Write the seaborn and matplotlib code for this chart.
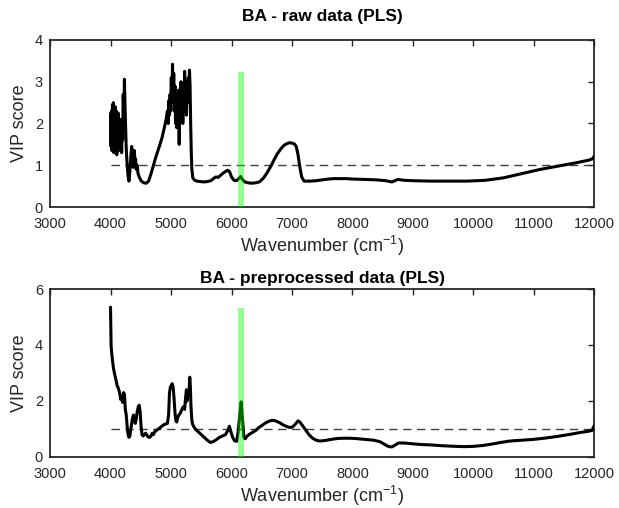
import numpy as np
import pandas as pd
import matplotlib
matplotlib.use("Agg")
import matplotlib.pyplot as plt
import seaborn as sns

# ---------------- data ----------------
raw_wn = [4000, 4008, 4016, 4024, 4032, 4040, 4048, 4056, 4064, 4072, 4080, 4088, 4096, 4104,
          4112, 4120, 4128, 4136, 4144, 4152, 4160, 4168, 4176, 4184, 4192, 4200, 4210, 4220,
          4230, 4240, 4250, 4260, 4275, 4290, 4305, 4320, 4335, 4350, 4365, 4375, 4385, 4395,
          4405, 4415, 4425, 4440, 4455, 4480, 4510, 4550, 4590, 4630, 4670, 4710, 4750, 4800,
          4850, 4890, 4920, 4940, 4955, 4965, 4975, 4985, 4995, 5005, 5015, 5025, 5035, 5045,
          5055, 5065, 5075, 5085, 5095, 5105, 5115, 5125, 5135, 5145, 5155, 5165, 5175, 5185,
          5195, 5205, 5215, 5225, 5235, 5245, 5255, 5265, 5275, 5285, 5295, 5305, 5315, 5325,
          5335, 5345, 5360, 5390, 5430, 5480, 5540, 5600, 5660, 5700, 5740, 5780, 5820, 5860,
          5900, 5940, 5970, 6000, 6040, 6080, 6120, 6150, 6180, 6220, 6270, 6330, 6400, 6460,
          6520, 6580, 6640, 6700, 6760, 6820, 6870, 6920, 6960, 7000, 7040, 7070, 7100, 7130,
          7160, 7200, 7300, 7400, 7500, 7600, 7700, 7800, 7900, 8000, 8200, 8400, 8550, 8650,
          8750, 8850, 9000, 9300, 9600, 9900, 10200, 10500, 10800, 11100, 11400, 11700, 11900,
          11960, 12000]
raw_vip = [2.24, 1.45, 2.30, 1.35, 2.45, 1.60, 2.50, 1.30, 2.20, 1.50, 2.40, 1.40, 2.30, 1.25,
           2.00, 1.45, 2.25, 1.35, 1.90, 1.55, 2.10, 1.40, 1.80, 1.30, 2.00, 1.60, 2.70, 2.10,
           3.06, 2.40, 1.90, 1.40, 1.00, 0.75, 0.62, 0.85, 1.20, 1.45, 1.20, 0.95, 1.25, 1.35,
           1.00, 1.15, 0.90, 1.00, 0.80, 0.70, 0.62, 0.58, 0.57, 0.62, 0.80, 1.00, 1.20, 1.42,
           1.65, 1.90, 2.10, 2.30, 2.00, 2.55, 2.20, 2.70, 2.30, 3.10, 2.50, 3.42, 2.60, 3.20,
           2.30, 2.90, 2.00, 2.70, 1.90, 2.50, 2.10, 2.80, 1.50, 2.60, 2.20, 3.00, 2.30, 2.90,
           2.00, 2.70, 2.40, 3.25, 2.30, 3.00, 2.20, 2.80, 2.50, 3.10, 2.70, 3.28, 2.90, 2.00,
           1.30, 0.90, 0.70, 0.64, 0.62, 0.61, 0.60, 0.61, 0.63, 0.68, 0.72, 0.71, 0.76, 0.81,
           0.85, 0.88, 0.84, 0.72, 0.64, 0.63, 0.68, 0.73, 0.66, 0.60, 0.58, 0.57, 0.58, 0.60,
           0.68, 0.80, 0.95, 1.12, 1.28, 1.40, 1.48, 1.52, 1.54, 1.53, 1.51, 1.45, 1.25, 0.95,
           0.72, 0.62, 0.62, 0.63, 0.65, 0.67, 0.68, 0.68, 0.68, 0.67, 0.66, 0.65, 0.63, 0.60,
           0.66, 0.64, 0.63, 0.62, 0.62, 0.62, 0.64, 0.70, 0.80, 0.90, 0.98, 1.06, 1.12,
           1.15, 1.22]

pre_wn = [4000, 4005, 4010, 4030, 4050, 4070, 4090, 4110, 4130, 4150, 4170, 4185, 4200, 4215,
          4230, 4245, 4260, 4275, 4290, 4305, 4320, 4340, 4360, 4380, 4395, 4410, 4425, 4440,
          4460, 4475, 4490, 4505, 4520, 4540, 4560, 4580, 4600, 4620, 4645, 4670, 4690, 4710,
          4730, 4760, 4790, 4820, 4850, 4880, 4910, 4940, 4960, 4975, 4990, 5005, 5020, 5035,
          5050, 5065, 5080, 5095, 5110, 5130, 5150, 5170, 5190, 5210, 5225, 5240, 5255, 5265,
          5280, 5295, 5310, 5320, 5330, 5345, 5360, 5400, 5450, 5500, 5550, 5600, 5650, 5700,
          5750, 5800, 5850, 5900, 5940, 5965, 5990, 6020, 6050, 6085, 6110, 6140, 6160, 6180,
          6205, 6225, 6260, 6300, 6350, 6400, 6450, 6500, 6550, 6600, 6650, 6700, 6750, 6800,
          6850, 6900, 6950, 7000, 7050, 7100, 7130, 7180, 7230, 7280, 7340, 7400, 7460, 7550,
          7650, 7750, 7850, 7950, 8050, 8150, 8250, 8350, 8450, 8530, 8600, 8650, 8700, 8760,
          8850, 8950, 9100, 9300, 9500, 9700, 9850, 10000, 10150, 10300, 10450, 10600, 10800,
          11000, 11200, 11400, 11600, 11750, 11900, 11960, 12000]
pre_vip = [5.35, 4.60, 3.95, 3.50, 3.15, 2.95, 2.75, 2.55, 2.45, 2.30, 2.05, 2.15, 1.95, 2.30,
           2.25, 1.70, 1.50, 1.10, 0.80, 0.70, 0.75, 1.05, 1.35, 1.50, 1.30, 1.20, 1.35, 1.60,
           1.80, 1.85, 1.60, 1.10, 0.80, 0.75, 0.80, 0.85, 0.78, 0.72, 0.70, 0.75, 0.85, 0.80,
           0.90, 0.95, 1.00, 1.05, 1.10, 1.15, 1.18, 1.20, 1.50, 2.30, 2.50, 2.55, 2.62, 2.50,
           2.10, 1.60, 1.30, 1.25, 1.40, 1.50, 1.55, 1.65, 1.75, 1.80, 1.70, 2.10, 2.40, 2.00,
           2.30, 2.20, 2.85, 2.50, 1.80, 1.30, 1.15, 1.00, 0.90, 0.80, 0.70, 0.60, 0.52, 0.55,
           0.62, 0.70, 0.75, 0.80, 0.95, 1.10, 0.90, 0.70, 0.58, 0.56, 0.90, 1.60, 1.97, 1.40,
           0.70, 0.65, 0.75, 0.82, 0.88, 0.95, 1.05, 1.12, 1.20, 1.26, 1.30, 1.31, 1.27, 1.22,
           1.15, 1.10, 1.06, 1.06, 1.16, 1.29, 1.25, 1.10, 0.95, 0.80, 0.67, 0.60, 0.57, 0.59,
           0.63, 0.66, 0.67, 0.67, 0.66, 0.64, 0.62, 0.60, 0.55, 0.45, 0.37, 0.36, 0.42, 0.50,
           0.50, 0.48, 0.45, 0.43, 0.40, 0.38, 0.37, 0.38, 0.41, 0.46, 0.52, 0.57, 0.60,
           0.63, 0.68, 0.74, 0.81, 0.87, 0.92, 0.95, 1.14]

band_wn = [6110, 6210]
raw_band_top = 3.23
pre_band_top = 5.31
threshold = 1.0
x_ticks = [3000, 4000, 5000, 6000, 7000, 8000, 9000, 10000, 11000, 12000]
raw_yticks = [0, 1, 2, 3, 4]
pre_yticks = [0, 2, 4, 6]
titles = ["BA - raw data (PLS)", "BA - preprocessed data (PLS)"]
xlabel = "Wavenumber (cm$^{-1}$)"
ylabel = "VIP score"

# ---------------- style ----------------
sns.set_style("white")
plt.rcParams['font.family'] = ['Liberation Sans', 'DejaVu Sans']
plt.rcParams['mathtext.default'] = 'regular'
axcol = '#262626'

fig = plt.figure(figsize=(6.19, 5.08), dpi=100)
ax1 = fig.add_axes([0.0808, 0.5925, 0.8796, 0.3288])
ax2 = fig.add_axes([0.0808, 0.1004, 0.8796, 0.3307])

panels = [
    (ax1, raw_wn, raw_vip, raw_band_top, raw_yticks, 4),
    (ax2, pre_wn, pre_vip, pre_band_top, pre_yticks, 6),
]

for i, (ax, wn, vip, btop, yt, ymax) in enumerate(panels):
    df = pd.DataFrame({"wn": wn, "vip": vip})
    sns.lineplot(data=df, x="wn", y="vip", ax=ax, color='black', linewidth=2.2,
                 sort=False, estimator=None, zorder=3)
    ax.plot([wn[0], x_ticks[-1]], [threshold, threshold], linestyle=(0, (6, 4)),
            color='#404040', linewidth=1.0, zorder=2)
    ax.fill_between(band_wn, 0, btop, color=(0.0, 1.0, 0.0), alpha=0.42,
                    linewidth=0, zorder=4)
    ax.set_xlim(x_ticks[0], x_ticks[-1])
    ax.set_ylim(0, ymax)
    ax.set_xticks(x_ticks)
    ax.set_yticks(yt)
    ax.tick_params(direction='in', length=4, width=1, colors=axcol, labelsize=10.5,
                   top=True, right=True, labelcolor=axcol)
    ax.tick_params(axis='x', pad=7)
    ax.tick_params(axis='y', pad=5)
    for s in ax.spines.values():
        s.set_color(axcol)
        s.set_linewidth(1.3)
        s.set_visible(True)
    ax.set_xlabel(xlabel, fontsize=13, color=axcol, labelpad=2)
    ax.set_ylabel(ylabel, fontsize=13, color=axcol, labelpad=5)
    ax.set_title(titles[i], fontsize=12.5, fontweight='bold', color='black',
                 pad=14 if i == 0 else 4)

fig.savefig("out.png", dpi=100)
